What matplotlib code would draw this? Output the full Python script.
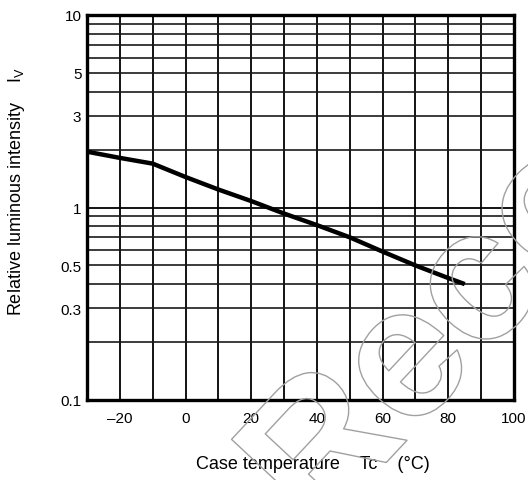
import matplotlib.pyplot as plt
import matplotlib.patheffects as pe

plt.rcParams['font.family'] = ['Liberation Sans', 'DejaVu Sans']
plt.rcParams['mathtext.fontset'] = 'custom'
plt.rcParams['mathtext.rm'] = 'Liberation Sans'

# case temperature (deg C) vs relative luminous intensity
temp = [-30, -20, -10, 0, 10, 20, 30, 40, 50, 60, 70, 80, 85]
iv = [1.95, 1.81, 1.69, 1.44, 1.24, 1.08, 0.93, 0.81, 0.70, 0.59, 0.50, 0.43, 0.40]

xticks = [-20, 0, 20, 40, 60, 80, 100]
xticklabels = ['\u201320', '0', '20', '40', '60', '80', '100']
yticks = [0.1, 0.3, 0.5, 1, 3, 5, 10]
yticklabels = ['0.1', '0.3', '0.5', '1', '3', '5', '10']

fig = plt.figure(figsize=(5.28, 4.81), dpi=100)
ax = fig.add_axes([87 / 528, 80 / 481, 427 / 528, 385 / 481])

ax.set_yscale('log')
ax.set_xlim(-30, 100)
ax.set_ylim(0.1, 10)

# grid: every 10 deg, and 1-9 in each decade
for x in range(-20, 100, 10):
    ax.axvline(x, color='black', lw=1.3, zorder=1)
for dec in [0.1, 1]:
    for m in range(2, 10):
        ax.axhline(dec * m, color='#1a1a1a', lw=1.2, zorder=1)
ax.axhline(1, color='black', lw=1.3, zorder=1)

ax.plot(temp, iv, color='black', lw=3.2, solid_capstyle='butt', zorder=3)

ax.set_xticks(xticks)
ax.set_xticklabels(xticklabels)
ax.set_yticks(yticks)
ax.set_yticklabels(yticklabels)
ax.minorticks_off()
ax.tick_params(length=0, labelsize=11)
ax.tick_params(axis='x', pad=8)
ax.tick_params(axis='y', pad=4)
for s in ax.spines.values():
    s.set_linewidth(2.4)
    s.set_zorder(4)

fig.text(313 / 528, 16 / 481, 'Case temperature    Tc    (\u00b0C)',
         ha='center', va='center', fontsize=13)
fig.text(17 / 528, 289 / 481, r'Relative luminous intensity    I$_{\mathrm{V}}$',
         ha='center', va='center', rotation=90, fontsize=13)

# outlined watermark
fig.text(0.83, 0.30, 'Reco', fontsize=135, rotation=47, color='none',
         ha='center', va='center', fontweight='bold',
         path_effects=[pe.Stroke(linewidth=1.0, foreground='#a0a0a0')], zorder=5)

fig.savefig('out.png', dpi=100)
